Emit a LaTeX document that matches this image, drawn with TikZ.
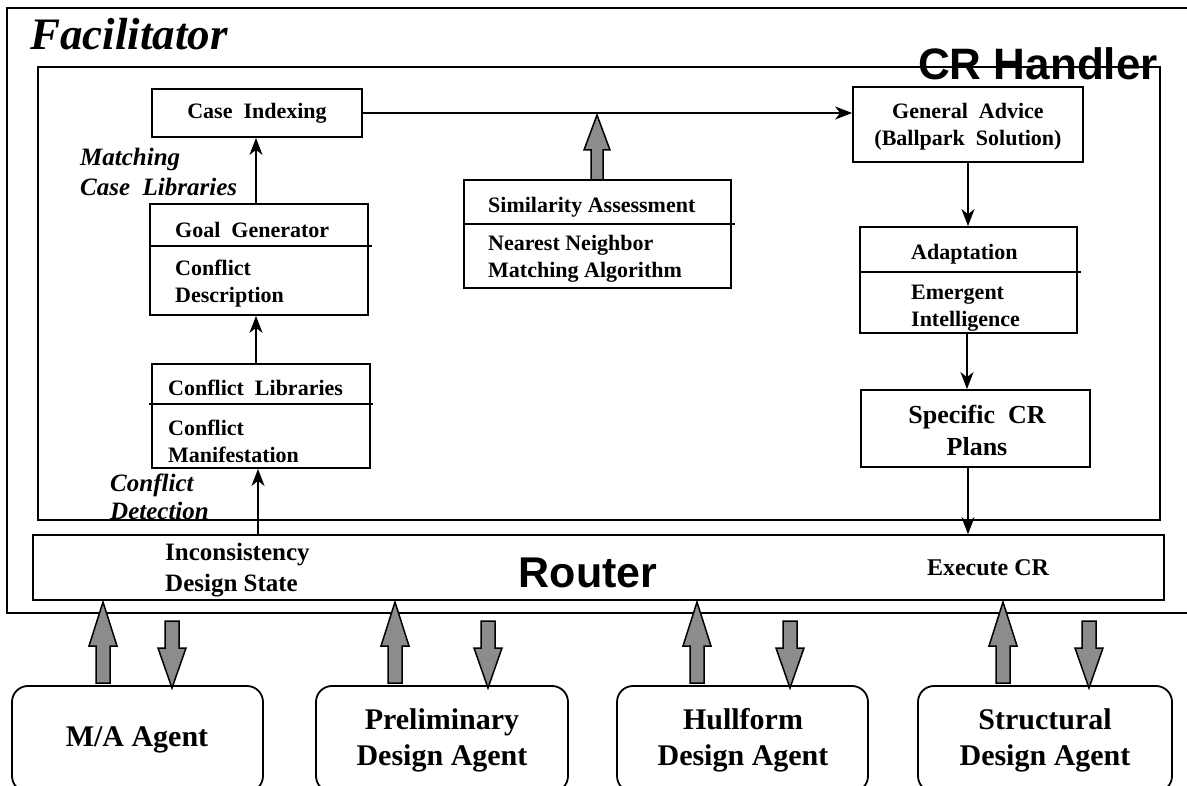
\documentclass[tikz,border=0pt]{standalone}
\usepackage{fontspec}
\setmainfont{Liberation Serif}
\setsansfont{Liberation Sans}
\usetikzlibrary{arrows.meta,calc}
\begin{document}
\begin{tikzpicture}[x=1pt,y=-1pt,
  box/.style={draw,line width=1.8pt,inner sep=0pt},
  agent/.style={draw,line width=1.8pt,rounded corners=16pt},
  txt/.style={inner sep=0pt,font=\bfseries\fontsize{22}{27}\selectfont,align=left},
  ctxt/.style={inner sep=0pt,font=\bfseries\fontsize{22}{27}\selectfont,align=center},
  lbl/.style={inner sep=0pt,font=\bfseries\itshape\fontsize{25}{30}\selectfont,align=left},
  atxt/.style={inner sep=0pt,font=\bfseries\fontsize{30}{36}\selectfont,align=center},
  big/.style={inner sep=0pt,font=\sffamily\bfseries\fontsize{43}{46}\selectfont},
  conn/.style={line width=1.8pt,-{Stealth[length=17pt,width=13pt,inset=5pt]}},
  divider/.style={line width=1.6pt},
  garrowstyle/.style={draw,line width=1.5pt,fill=black!45,line join=miter},
  pics/garrow/.style n args={4}{code={%
    \draw[garrowstyle] (0,0) -- (#2,#3) -- (#4,#3) -- (#4,#1) -- (-#4,#1) -- (-#4,#3) -- (-#2,#3) -- cycle;}}
]
\useasboundingbox (0,0) rectangle (1187,786);
\clip (0,0) rectangle (1187,786);

% Facilitator
\draw[line width=2.2pt] (1200,8) -- (7,8) -- (7,613) -- (1200,613);
\node[inner sep=0pt,anchor=base west,font=\bfseries\itshape\fontsize{45}{48}\selectfont] (fac) at (30,50) {Facilitator};

% CR Handler
\node[box,minimum width=1122pt,minimum height=453pt] (crh) at (599,293.5) {};
\node[big,anchor=base east,font=\sffamily\bfseries\fontsize{44}{48}\selectfont] (crhtxt) at (1158,80) {CR Handler};

% Case Indexing
\node[box,minimum width=210pt,minimum height=48pt] (ci) at (257,113) {};
\node[ctxt] (citxt) at (ci) {Case\ \ Indexing};

% General Advice
\node[box,minimum width=230pt,minimum height=75pt] (ga) at (968,124.5) {};
\node[ctxt] (gatxt) at (968,127) {General\ \ Advice\\(Ballpark\ \ Solution)};

% Similarity Assessment
\node[box,minimum width=267pt,minimum height=108pt] (sa) at (597.5,234) {};
\draw[divider] (sa.west |- 0,224) -- ([xshift=3pt]sa.east |- 0,224);
\node[txt,anchor=west] (satxt) at (488,207) {Similarity Assessment};
\node[txt,anchor=west] (satxt2) at (488,259) {Nearest Neighbor\\Matching Algorithm};

% Goal Generator
\node[box,minimum width=218pt,minimum height=111pt] (gg) at (259,259.5) {};
\draw[divider] (gg.west |- 0,246) -- ([xshift=3pt]gg.east |- 0,246);
\node[txt,anchor=west] (ggtxt) at (175,230) {Goal\ \ Generator};
\node[txt,anchor=west] (ggtxt2) at (175,284) {Conflict\\Description};

% Conflict Libraries
\node[box,minimum width=218pt,minimum height=104pt] (cl) at (261,416) {};
\draw[divider] ([xshift=-2pt]cl.west |- 0,404) -- ([xshift=2pt]cl.east |- 0,404);
\node[txt,anchor=west] (cltxt) at (168,388) {Conflict\ \ Libraries};
\node[txt,anchor=west] (cltxt2) at (168,441) {Conflict\\Manifestation};

% Adaptation
\node[box,minimum width=217pt,minimum height=106pt] (ad) at (968.5,280) {};
\draw[divider] (ad.west |- 0,272) -- ([xshift=3pt]ad.east |- 0,272);
\node[txt,anchor=west] (adtxt) at (911,254) {Adaptation};
\node[txt,anchor=west] (adtxt2) at (911,308) {Emergent\\Intelligence};

% Specific CR Plans
\node[box,minimum width=229pt,minimum height=77pt] (sp) at (975.5,428.5) {};
\node[inner sep=0pt,font=\bfseries\fontsize{26}{32}\selectfont,align=center] (sptxt) at (977,430) {Specific\ \ CR\\Plans};

% labels
\node[lbl,anchor=west] (mcl) at (80,172) {Matching\\Case\ \ Libraries};
\node[lbl,anchor=west,font=\bfseries\itshape\fontsize{25}{28}\selectfont] (cd) at (110,497) {Conflict\\Detection};

% Router
\node[box,minimum width=1131pt,minimum height=65pt,line width=1.5pt] (router) at (598.5,567.5) {};
\node[big] (routertxt) at (588,573) {Router};
\node[txt,anchor=west,font=\bfseries\fontsize{25}{31}\selectfont] (inc) at (165,570) {Inconsistency\\Design State};
\node[txt,font=\bfseries\fontsize{24}{28}\selectfont] (exe) at (988,568) {Execute CR};

% Agents
\node[agent,minimum width=251pt,minimum height=106pt] (ma) at (137.5,739) {};
\node[atxt] (matxt) at (137,740) {M/A Agent};
\node[agent,minimum width=252pt,minimum height=106pt] (pd) at (442,739) {};
\node[atxt] (pdtxt) at (442,740) {Preliminary\\Design Agent};
\node[agent,minimum width=251pt,minimum height=106pt] (hd) at (742.5,739) {};
\node[atxt] (hdtxt) at (743,740) {Hullform\\Design Agent};
\node[agent,minimum width=254pt,minimum height=106pt] (sd) at (1045,739) {};
\node[atxt] (sdtxt) at (1045,740) {Structural\\Design Agent};

% black connectors
\draw[conn] (ci.east) -- (ci.east -| ga.west);
\draw[conn] (gg.north -| 256,0) -- (ci.south -| 256,0);
\draw[conn] (cl.north -| 256,0) -- (gg.south -| 256,0);
\draw[conn] (router.north -| 258,0) -- (cl.south -| 258,0);
\draw[conn] (ga.south) -- (ad.north -| ga.south);
\draw[conn] (ad.south -| 967,0) -- (sp.north -| 967,0);
\draw[conn] (sp.south -| 968,0) -- (router.north -| 968,0);

% gray block arrows
\pic at (597,115) {garrow={65}{13}{35}{6}};
\foreach \ux/\dx in {103/172, 395/488, 697/790, 1003/1089}{
  \pic at (\ux,602) {garrow={81}{14}{44}{7}};
  \pic[rotate=180] at (\dx,688) {garrow={67}{14}{40}{7}};
}
\end{tikzpicture}
\end{document}
